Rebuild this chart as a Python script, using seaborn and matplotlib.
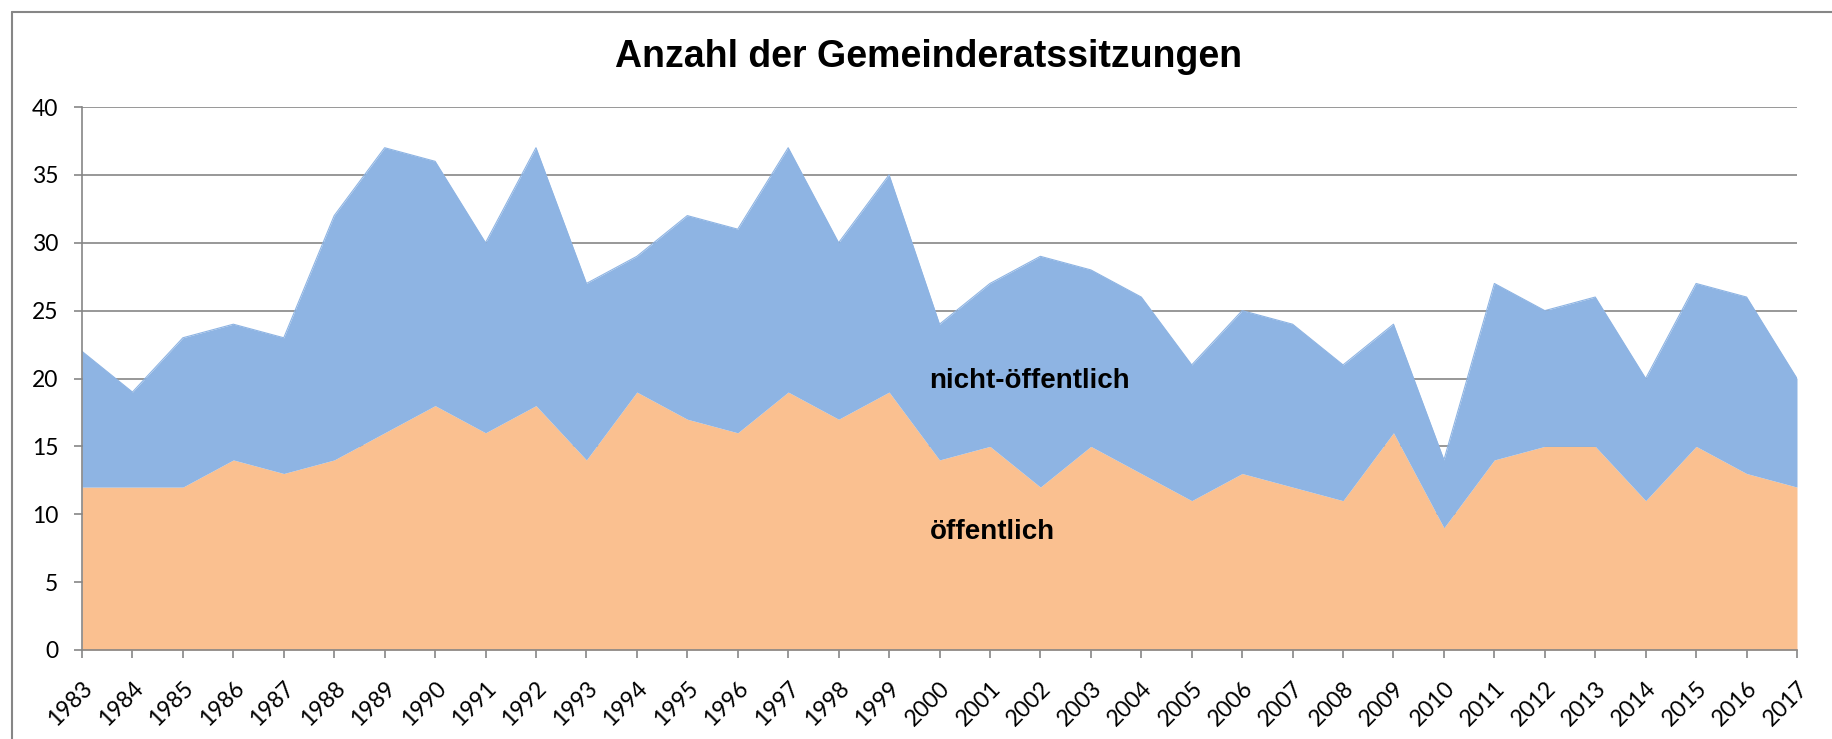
import pandas as pd
import seaborn as sns
import pylab as plt

years = list(range(1983, 2018))
oeffentlich = [12, 12, 12, 14, 13, 14, 16, 18, 16, 18, 14, 19, 17, 16, 19, 17, 19,
               14, 15, 12, 15, 13, 11, 13, 12, 11, 16, 9, 14, 15, 15, 11, 15, 13, 12]
gesamt = [22, 19, 23, 24, 23, 32, 37, 36, 30, 37, 27, 29, 32, 31, 37, 30, 35,
          24, 27, 29, 28, 26, 21, 25, 24, 21, 24, 14, 27, 25, 26, 20, 27, 26, 20]
y_ticks = [0, 5, 10, 15, 20, 25, 30, 35, 40]

df = pd.DataFrame({"year": years, "oeffentlich": oeffentlich, "gesamt": gesamt})

sns.set_theme(style="white")
plt.rcParams["font.family"] = ["Lato", "DejaVu Sans"]
plt.rcParams["text.color"] = "black"

grey = "#868686"
blue = "#8EB4E3"
orange = "#FAC090"

fig = plt.figure(figsize=(18.32, 7.39), dpi=100)
ax = fig.add_axes([82 / 1832, 1 - 650 / 739, (1797 - 82) / 1832, (650 - 107) / 739])

ax.fill_between(df["year"], 0, df["oeffentlich"], color=orange, lw=0, zorder=2)
ax.fill_between(df["year"], df["oeffentlich"], df["gesamt"], color=blue, lw=0, zorder=2)
sns.lineplot(data=df, x="year", y="gesamt", color=blue, lw=0.8, ax=ax, zorder=3)

ax.set_xlim(years[0], years[-1])
ax.set_ylim(0, 40)
ax.set_yticks(y_ticks)
ax.set_xticks(years)
ax.set_xticklabels([str(y) for y in years], rotation=45, ha="right", va="top",
                   rotation_mode="anchor")
ax.set_xlabel("")
ax.set_ylabel("")

ax.yaxis.grid(True, color=grey, lw=1.2, zorder=0)
ax.set_axisbelow(True)
for side in ["top", "right"]:
    ax.spines[side].set_visible(False)
for side in ["left", "bottom"]:
    ax.spines[side].set_color(grey)
    ax.spines[side].set_linewidth(1.2)
    ax.spines[side].set_zorder(4)
ax.tick_params(axis="both", which="major", direction="out", length=6, width=1.2,
               color=grey, labelsize=16.5, labelcolor="black")
ax.tick_params(axis="x", pad=14, bottom=True)
ax.tick_params(axis="y", pad=11, left=True)

ax.text(1999.8, 19.3, "nicht-öffentlich", fontsize=20, fontweight="bold",
        family=["Liberation Sans", "DejaVu Sans"], va="baseline", ha="left",
        color="black", zorder=5)
ax.text(1999.8, 8.2, "öffentlich", fontsize=20, fontweight="bold",
        family=["Liberation Sans", "DejaVu Sans"], va="baseline", ha="left",
        color="black", zorder=5)

fig.text(929 / 1832, 1 - 67 / 739, "Anzahl der Gemeinderatssitzungen", fontsize=27,
         fontweight="bold", family=["Liberation Sans", "DejaVu Sans"],
         ha="center", va="baseline", color="black")

# outer chart frame (only top and left edges are visible in the original)
fig.add_artist(plt.Line2D([12 / 1832, 12 / 1832], [0, 1 - 12 / 739],
                          transform=fig.transFigure, color=grey, lw=1.5))
fig.add_artist(plt.Line2D([12 / 1832, 1], [1 - 12 / 739, 1 - 12 / 739],
                          transform=fig.transFigure, color=grey, lw=1.5))

plt.savefig("out.png", dpi=100)
